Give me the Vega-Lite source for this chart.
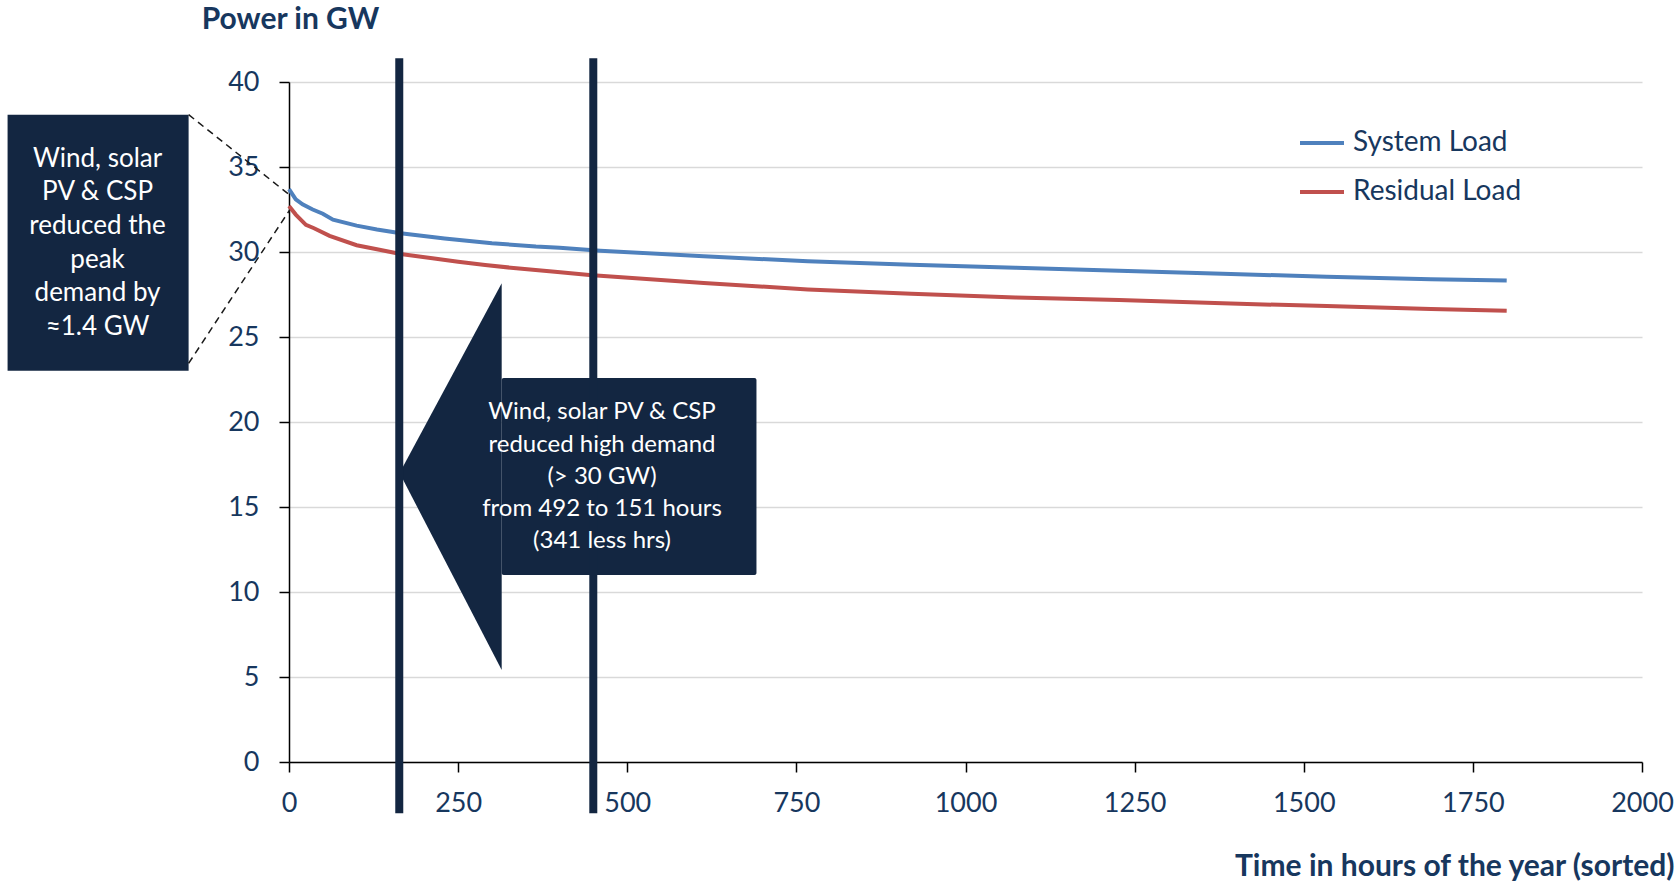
{
  "$schema": "https://vega.github.io/schema/vega-lite/v6.json",
  "width": 1353,
  "height": 680,
  "autosize": {"type": "none"},
  "padding": {"left": 289, "top": 82, "right": 38, "bottom": 121},
  "background": "white",
  "config": {
    "view": {"stroke": null},
    "font": "Lato",
    "axis": {
      "labelFont": "Lato", "labelFontSize": 27, "labelColor": "#17375e", "labelFlush": false,
      "titleFont": "Lato", "titleFontSize": 30, "titleFontWeight": "bold", "titleColor": "#17375e",
      "domainColor": "#000000", "domainWidth": 1.5, "tickColor": "#000000", "tickWidth": 1.5, "tickSize": 10
    }
  },
  "layer": [
    {
      "data": {"values": [{"h": 163.5, "gw": 17.0, "gw2": 17.0}, {"h": 314.4, "gw": 28.16, "gw2": 5.41}]},
      "mark": {"type": "area", "color": "#132641", "clip": false},
      "encoding": {
        "x": {"field": "h", "type": "quantitative", "scale": {"domain": [0, 2000], "nice": false},
          "axis": {"values": [0, 250, 500, 750, 1000, 1250, 1500, 1750, 2000], "format": "d", "grid": false, "labelPadding": 18,
            "title": "Time in hours of the year (sorted)", "titleAngle": 0, "titleAlign": "right", "titleBaseline": "middle", "titleX": 1385, "titleY": 104}},
        "y": {"field": "gw", "type": "quantitative", "scale": {"domain": [0, 40], "nice": false, "zero": true},
          "axis": {"values": [0, 5, 10, 15, 20, 25, 30, 35, 40], "grid": true, "gridColor": "#d9d9d9", "gridWidth": 1.5, "labelPadding": 20,
            "title": "Power in GW", "titleAngle": 0, "titleAlign": "center", "titleBaseline": "middle", "titleX": 1, "titleY": -63}},
        "y2": {"field": "gw2"}
      }
    },
    {
      "data": {"values": [{"h": 314.4, "h2": 691, "gw": 22.59, "gw2": 11.0}]},
      "mark": {"type": "rect", "color": "#132641", "cornerRadius": 2, "clip": false},
      "encoding": {
        "x": {"field": "h", "type": "quantitative"},
        "x2": {"field": "h2"},
        "y": {"field": "gw", "type": "quantitative"},
        "y2": {"field": "gw2"}
      }
    },
    {
      "data": {"values": [
        {"h": 0, "gw": 33.7, "series": "System Load"},
        {"h": 10, "gw": 33.1, "series": "System Load"},
        {"h": 20, "gw": 32.8, "series": "System Load"},
        {"h": 35, "gw": 32.5, "series": "System Load"},
        {"h": 50, "gw": 32.25, "series": "System Load"},
        {"h": 65, "gw": 31.9, "series": "System Load"},
        {"h": 100, "gw": 31.55, "series": "System Load"},
        {"h": 130, "gw": 31.32, "series": "System Load"},
        {"h": 165, "gw": 31.1, "series": "System Load"},
        {"h": 230, "gw": 30.8, "series": "System Load"},
        {"h": 300, "gw": 30.52, "series": "System Load"},
        {"h": 365, "gw": 30.32, "series": "System Load"},
        {"h": 400, "gw": 30.25, "series": "System Load"},
        {"h": 460, "gw": 30.08, "series": "System Load"},
        {"h": 613, "gw": 29.75, "series": "System Load"},
        {"h": 767, "gw": 29.45, "series": "System Load"},
        {"h": 920, "gw": 29.25, "series": "System Load"},
        {"h": 1074, "gw": 29.08, "series": "System Load"},
        {"h": 1227, "gw": 28.9, "series": "System Load"},
        {"h": 1380, "gw": 28.72, "series": "System Load"},
        {"h": 1534, "gw": 28.55, "series": "System Load"},
        {"h": 1688, "gw": 28.4, "series": "System Load"},
        {"h": 1800, "gw": 28.32, "series": "System Load"},
        {"h": 0, "gw": 32.7, "series": "Residual Load"},
        {"h": 10, "gw": 32.2, "series": "Residual Load"},
        {"h": 25, "gw": 31.6, "series": "Residual Load"},
        {"h": 37, "gw": 31.4, "series": "Residual Load"},
        {"h": 60, "gw": 30.95, "series": "Residual Load"},
        {"h": 100, "gw": 30.4, "series": "Residual Load"},
        {"h": 130, "gw": 30.16, "series": "Residual Load"},
        {"h": 165, "gw": 29.88, "series": "Residual Load"},
        {"h": 212, "gw": 29.63, "series": "Residual Load"},
        {"h": 250, "gw": 29.43, "series": "Residual Load"},
        {"h": 290, "gw": 29.24, "series": "Residual Load"},
        {"h": 336, "gw": 29.04, "series": "Residual Load"},
        {"h": 393, "gw": 28.84, "series": "Residual Load"},
        {"h": 444, "gw": 28.65, "series": "Residual Load"},
        {"h": 613, "gw": 28.18, "series": "Residual Load"},
        {"h": 767, "gw": 27.8, "series": "Residual Load"},
        {"h": 920, "gw": 27.55, "series": "Residual Load"},
        {"h": 1074, "gw": 27.33, "series": "Residual Load"},
        {"h": 1227, "gw": 27.18, "series": "Residual Load"},
        {"h": 1380, "gw": 26.98, "series": "Residual Load"},
        {"h": 1534, "gw": 26.82, "series": "Residual Load"},
        {"h": 1688, "gw": 26.64, "series": "Residual Load"},
        {"h": 1800, "gw": 26.55, "series": "Residual Load"}
      ]},
      "mark": {"type": "line", "strokeWidth": 4},
      "encoding": {
        "x": {"field": "h", "type": "quantitative"},
        "y": {"field": "gw", "type": "quantitative"},
        "color": {"field": "series", "type": "nominal",
          "scale": {"domain": ["System Load", "Residual Load"], "range": ["#4f81bd", "#c0504d"]},
          "legend": {"title": null, "orient": "none", "legendX": 1009, "legendY": 37, "symbolType": "stroke", "symbolSize": 1936,
            "symbolStrokeWidth": 4, "labelFont": "Lato", "labelFontSize": 28, "labelColor": "#17375e", "labelOffset": 7, "labelLimit": 0, "rowPadding": 11}}
      }
    },
    {
      "data": {"values": [{"h": 163, "gw": 41.4, "gw2": -3.02}, {"h": 449.8, "gw": 41.4, "gw2": -3.02}]},
      "mark": {"type": "rule", "color": "#132641", "strokeWidth": 8, "clip": false},
      "encoding": {
        "x": {"field": "h", "type": "quantitative"},
        "y": {"field": "gw", "type": "quantitative"},
        "y2": {"field": "gw2"}
      }
    },
    {
      "data": {"values": [{"h": -416, "h2": -148.4, "gw": 38.08, "gw2": 23.02}]},
      "mark": {"type": "rect", "color": "#132641", "clip": false},
      "encoding": {
        "x": {"field": "h", "type": "quantitative"},
        "x2": {"field": "h2"},
        "y": {"field": "gw", "type": "quantitative"},
        "y2": {"field": "gw2"}
      }
    },
    {
      "data": {"values": [{"h": -148.4, "h2": 1, "gw": 38.08, "gw2": 33.35}, {"h": -148.4, "h2": 1, "gw": 23.45, "gw2": 32.47}]},
      "mark": {"type": "rule", "color": "#1a1a1a", "strokeWidth": 1.5, "strokeDash": [7, 5], "clip": false},
      "encoding": {
        "x": {"field": "h", "type": "quantitative"},
        "x2": {"field": "h2"},
        "y": {"field": "gw", "type": "quantitative"},
        "y2": {"field": "gw2"}
      }
    },
    {
      "data": {"values": [
        {"h": -283, "gw": 35.49, "label": "Wind, solar\nPV & CSP\nreduced the\npeak\ndemand by\n≈1.4 GW"}
      ]},
      "mark": {"type": "text", "color": "white", "font": "Lato", "fontSize": 26, "align": "center", "baseline": "middle", "lineBreak": "\n", "lineHeight": 33.7, "clip": false},
      "encoding": {
        "x": {"field": "h", "type": "quantitative"},
        "y": {"field": "gw", "type": "quantitative"},
        "text": {"field": "label"}
      }
    },
    {
      "data": {"values": [
        {"h": 462.7, "gw": 20.56, "label": "Wind, solar PV & CSP\nreduced high demand\n(> 30 GW)\nfrom 492 to 151 hours\n(341 less hrs)"}
      ]},
      "mark": {"type": "text", "color": "white", "font": "Lato", "fontSize": 24, "align": "center", "baseline": "middle", "lineBreak": "\n", "lineHeight": 32.1, "clip": false},
      "encoding": {
        "x": {"field": "h", "type": "quantitative"},
        "y": {"field": "gw", "type": "quantitative"},
        "text": {"field": "label"}
      }
    }
  ]
}
